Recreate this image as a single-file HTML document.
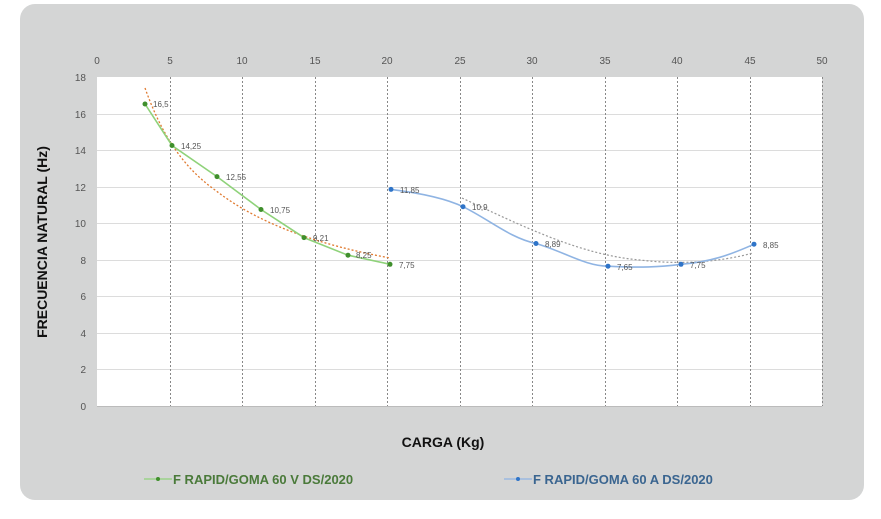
<!DOCTYPE html>
<html><head><style>
body{margin:0;background:#fff;}
svg{display:block;font-family:"Liberation Sans",sans-serif;}
</style></head><body>
<svg width="881" height="519" viewBox="0 0 881 519">
<rect x="20" y="4" width="844" height="496" rx="15" fill="#d4d5d5"/>
<rect x="97" y="77" width="725" height="329" fill="#fff"/>
<g stroke="#dcdcdc" stroke-width="1">
<line x1="97" x2="822" y1="114.5" y2="114.5"/><line x1="97" x2="822" y1="150.5" y2="150.5"/>
<line x1="97" x2="822" y1="187.5" y2="187.5"/><line x1="97" x2="822" y1="223.5" y2="223.5"/>
<line x1="97" x2="822" y1="260.5" y2="260.5"/><line x1="97" x2="822" y1="296.5" y2="296.5"/>
<line x1="97" x2="822" y1="333.5" y2="333.5"/><line x1="97" x2="822" y1="369.5" y2="369.5"/>
</g>
<g stroke="#888" stroke-width="1" stroke-dasharray="2,2">
<line x1="170.5" x2="170.5" y1="77" y2="406"/><line x1="242.5" x2="242.5" y1="77" y2="406"/>
<line x1="315.5" x2="315.5" y1="77" y2="406"/><line x1="387.5" x2="387.5" y1="77" y2="406"/>
<line x1="460.5" x2="460.5" y1="77" y2="406"/><line x1="532.5" x2="532.5" y1="77" y2="406"/>
<line x1="605.5" x2="605.5" y1="77" y2="406"/><line x1="677.5" x2="677.5" y1="77" y2="406"/>
<line x1="750.5" x2="750.5" y1="77" y2="406"/><line x1="822.5" x2="822.5" y1="77" y2="406"/>
</g>
<line x1="97" x2="822" y1="406.5" y2="406.5" stroke="#bbb"/>
<g font-size="10" fill="#555" text-anchor="middle">
<text x="97" y="64">0</text><text x="170" y="64">5</text><text x="242" y="64">10</text><text x="315" y="64">15</text><text x="387" y="64">20</text><text x="460" y="64">25</text><text x="532" y="64">30</text><text x="605" y="64">35</text><text x="677" y="64">40</text><text x="750" y="64">45</text><text x="822" y="64">50</text>
</g>
<g font-size="10" fill="#555" text-anchor="end">
<text x="86" y="81">18</text><text x="86" y="118">16</text><text x="86" y="154">14</text><text x="86" y="191">12</text><text x="86" y="227">10</text><text x="86" y="264">8</text><text x="86" y="300">6</text><text x="86" y="337">4</text><text x="86" y="373">2</text><text x="86" y="410">0</text>
</g>
<text x="47" y="242" font-size="14" font-weight="bold" fill="#111" text-anchor="middle" transform="rotate(-90 47 242)">FRECUENCIA NATURAL (Hz)</text>
<text x="443" y="447" font-size="14" font-weight="bold" fill="#111" text-anchor="middle">CARGA (Kg)</text>
<!-- trendlines -->
<path d="M145,88 C160,130 180,165 215,190 C260,225 320,245 390,258" fill="none" stroke="#e07a30" stroke-width="1.3" stroke-dasharray="2,2"/>
<path d="M462,198 C520,225 580,255 640,260 C680,265 720,262 753,253" fill="none" stroke="#999" stroke-width="1.2" stroke-dasharray="2,2"/>
<!-- green -->
<polyline points="145,104 172,145.5 217,176.6 261,209.5 304,237.6 348,255.2 390,264.3" fill="none" stroke="#8fd27a" stroke-width="1.6"/>
<g fill="#3f8f2c"><circle cx="145" cy="104" r="2.5"/><circle cx="172" cy="145.5" r="2.5"/><circle cx="217" cy="176.6" r="2.5"/><circle cx="261" cy="209.5" r="2.5"/><circle cx="304" cy="237.6" r="2.5"/><circle cx="348" cy="255.2" r="2.5"/><circle cx="390" cy="264.3" r="2.5"/></g>
<!-- blue -->
<path d="M391,189.4 C420,193 445,198 463,206.7 C490,220 510,238 536,243.5 C565,252 585,266 608,266.2 C640,268 660,267 681,264.3 C710,262 730,255 754,244.2" fill="none" stroke="#8fb4e3" stroke-width="1.6"/>
<g fill="#2f74c8"><circle cx="391" cy="189.4" r="2.5"/><circle cx="463" cy="206.7" r="2.5"/><circle cx="536" cy="243.5" r="2.5"/><circle cx="608" cy="266.2" r="2.5"/><circle cx="681" cy="264.3" r="2.5"/><circle cx="754" cy="244.2" r="2.5"/></g>
<g font-size="8" fill="#555">
<text x="153" y="107">16,5</text><text x="181" y="149">14,25</text><text x="226" y="180">12,55</text><text x="270" y="213">10,75</text><text x="313" y="241">9,21</text><text x="356" y="258">8,25</text><text x="399" y="268">7,75</text>
<text x="400" y="193">11,85</text><text x="472" y="210">10,9</text><text x="545" y="247">8,89</text><text x="617" y="270">7,65</text><text x="690" y="268">7,75</text><text x="763" y="248">8,85</text>
</g>
<!-- legend -->
<line x1="144" x2="172" y1="479" y2="479" stroke="#8fd27a" stroke-width="1.3"/><circle cx="158" cy="479" r="2" fill="#3f8f2c"/>
<text x="173" y="484" font-size="13" font-weight="bold" fill="#4a7a3a">F RAPID/GOMA 60 V DS/2020</text>
<line x1="504" x2="532" y1="479" y2="479" stroke="#8fb4e3" stroke-width="1.3"/><circle cx="518" cy="479" r="2" fill="#2f74c8"/>
<text x="533" y="484" font-size="13" font-weight="bold" fill="#3a6590">F RAPID/GOMA 60 A DS/2020</text>
</svg>
</body></html>
